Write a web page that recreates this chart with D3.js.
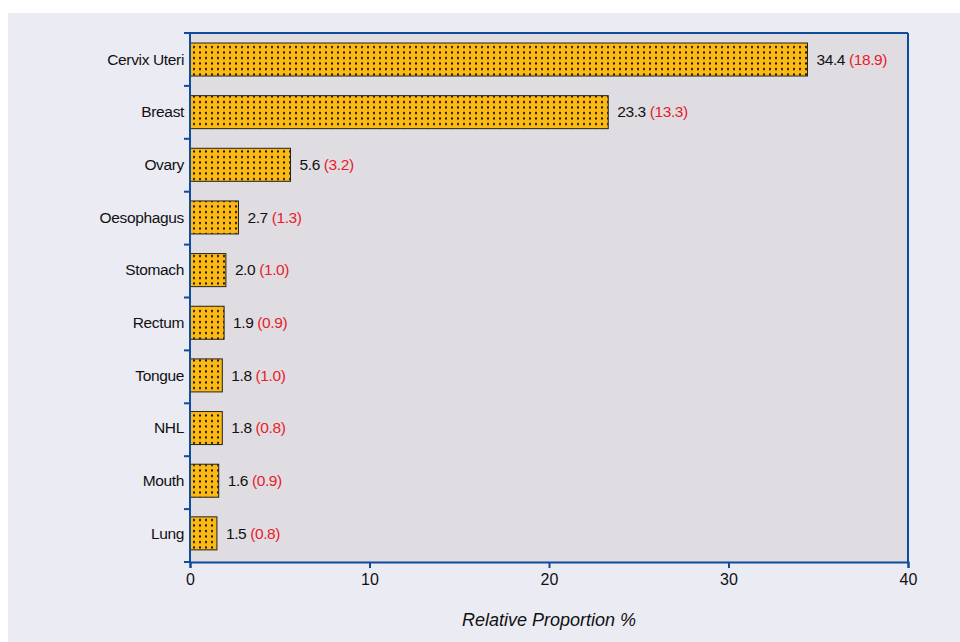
<!DOCTYPE html>
<html><head><meta charset="utf-8">
<script src="https://cdn.jsdelivr.net/npm/d3@7"></script>
<style>body{margin:0;background:#fff;} svg{display:block;font-family:"Liberation Sans",Arial,Helvetica,sans-serif;}</style>
</head><body>
<svg id="c" width="960" height="642"></svg>
<script>
const categories = ["Cervix Uteri","Breast","Ovary","Oesophagus","Stomach","Rectum","Tongue","NHL","Mouth","Lung"];
const values = [34.4, 23.3, 5.6, 2.7, 2.0, 1.9, 1.8, 1.8, 1.6, 1.5];
const bracketValues = [18.9, 13.3, 3.2, 1.3, 1.0, 0.9, 1.0, 0.8, 0.9, 0.8];
const xTicks = [0, 10, 20, 30, 40];
const xTitle = "Relative Proportion %";

const svg = d3.select("#c");
const L = 190, R = 908, T = 33, B = 562;
const axisColor = "#0f4c9c";

svg.append("rect").attr("x", 8).attr("y", 13).attr("width", 952).attr("height", 629).attr("fill", "#ebebf4");
svg.append("rect").attr("x", L).attr("y", T).attr("width", R - L).attr("height", B - T).attr("fill", "#dfdde2");

const defs = svg.append("defs");
const pat = defs.append("pattern").attr("id", "dots").attr("patternUnits", "userSpaceOnUse")
  .attr("width", 6).attr("height", 5.5).attr("x", L + 1).attr("y", 0);
pat.append("rect").attr("width", 6).attr("height", 5.5).attr("fill", "#fdb913");
pat.append("rect").attr("x", 2).attr("y", 2).attr("width", 2).attr("height", 2).attr("fill", "#111");

const x = d3.scaleLinear().domain([0, 40]).range([L, R]);
const y = d3.scaleBand().domain(categories).range([T, B]).padding(0);
const yb = d3.scaleBand().domain(categories).range([T, B - 2.5]).padding(0);
const bw = yb.bandwidth();

// top & right border
svg.append("line").attr("x1", L).attr("x2", R).attr("y1", T).attr("y2", T).attr("stroke", axisColor).attr("stroke-width", 2);
svg.append("line").attr("x1", R).attr("x2", R).attr("y1", T).attr("y2", B).attr("stroke", axisColor).attr("stroke-width", 2);

// bars
svg.append("g").selectAll("rect").data(categories).join("rect")
  .attr("x", x(0)).attr("y", d => yb(d) + bw * 0.19)
  .attr("width", (d, i) => x(values[i]) - x(0))
  .attr("height", bw * 0.627)
  .attr("fill", "url(#dots)").attr("stroke", "#222").attr("stroke-width", 1);

// value labels
const lab = svg.append("g").selectAll("text").data(categories).join("text")
  .attr("x", (d, i) => x(values[i]) + 9)
  .attr("y", d => yb(d) + bw * 0.5)
  .attr("dy", "0.35em").attr("font-size", 15.5).attr("letter-spacing", -0.4).attr("fill", "#111");
lab.append("tspan").text((d, i) => values[i].toFixed(1) + " ");
lab.append("tspan").attr("fill", "#e8202a").text((d, i) => "(" + bracketValues[i].toFixed(1) + ")");

// left axis
const boundaries = d3.range(categories.length + 1).map(i => T + i * y.bandwidth());
svg.append("line").attr("x1", L).attr("x2", L).attr("y1", T).attr("y2", B).attr("stroke", axisColor).attr("stroke-width", 2);
svg.append("g").selectAll("line").data(boundaries).join("line")
  .attr("x1", L - 6).attr("x2", L).attr("y1", d => d).attr("y2", d => d)
  .attr("stroke", axisColor).attr("stroke-width", 2);
svg.append("g").selectAll("text").data(categories).join("text")
  .attr("x", L - 6).attr("y", d => yb(d) + bw * 0.5).attr("dy", "0.35em")
  .attr("text-anchor", "end").attr("font-size", 15.5).attr("letter-spacing", -0.35).attr("fill", "#111").text(d => d);

// bottom axis
const xa = svg.append("g").attr("transform", `translate(0,${B})`)
  .call(d3.axisBottom(x).tickValues(xTicks).tickSize(6).tickPadding(6).tickFormat(d3.format("d")));
xa.select(".domain").attr("stroke", axisColor).attr("stroke-width", 2);
xa.selectAll(".tick line").attr("stroke", axisColor).attr("stroke-width", 2);
xa.selectAll(".tick text").attr("font-size", 16).attr("fill", "#111").attr("font-family", "Liberation Sans, Arial, sans-serif");

svg.append("text").attr("x", (L + R) / 2).attr("y", 626)
  .attr("text-anchor", "middle").attr("font-size", 18).attr("font-style", "italic").attr("fill", "#111").text(xTitle);
</script>
</body></html>
